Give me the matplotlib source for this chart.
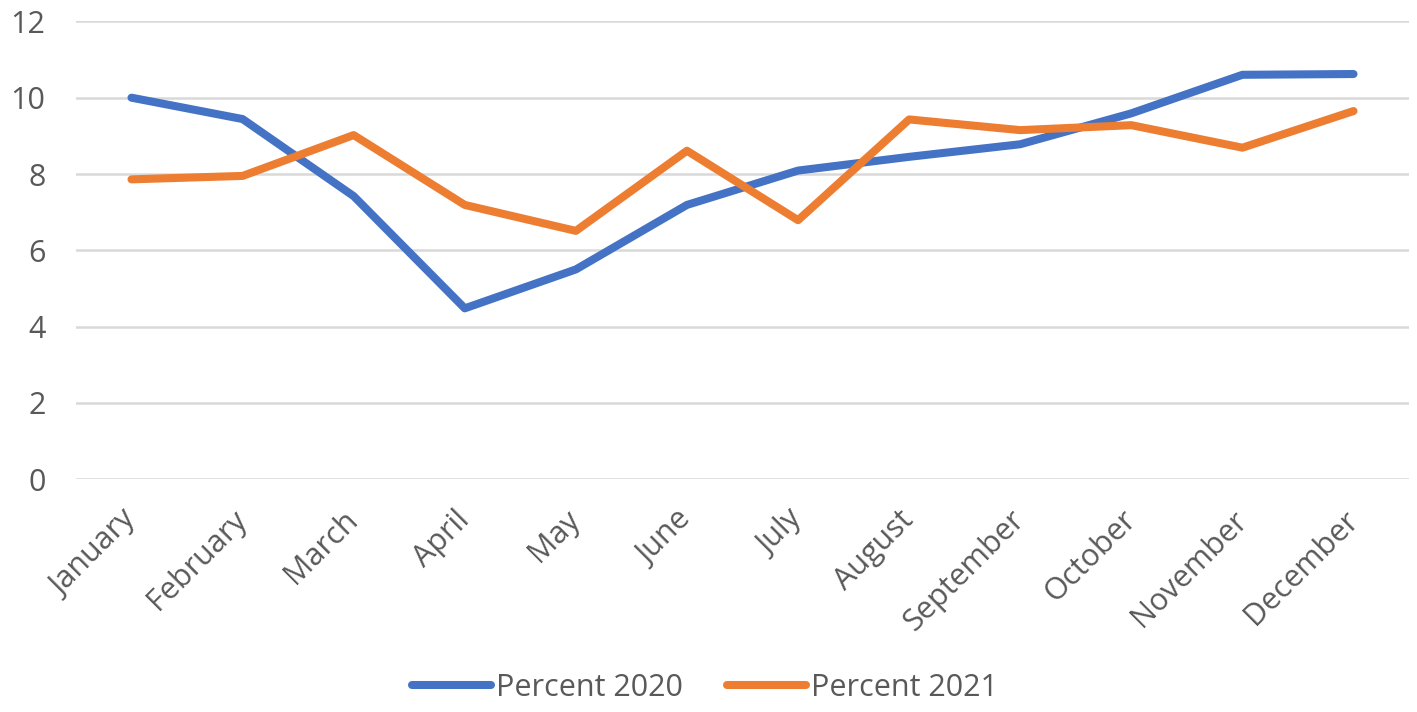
import matplotlib
matplotlib.use("Agg")
import matplotlib.pyplot as plt

months = ["January", "February", "March", "April", "May", "June", "July",
          "August", "September", "October", "November", "December"]
pct_2020 = [10.0, 9.44, 7.42, 4.48, 5.50, 7.19, 8.09, 8.45, 8.78, 9.59, 10.60, 10.62]
pct_2021 = [7.86, 7.95, 9.02, 7.19, 6.51, 8.61, 6.79, 9.43, 9.15, 9.28, 8.69, 9.65]
yticks = [0, 2, 4, 6, 8, 10, 12]

plt.rcParams['font.family'] = ['Open Sans', 'DejaVu Sans']
txt = '#595959'

fig = plt.figure(figsize=(14.17, 7.12), dpi=100)
ax = fig.add_axes([0.0536, 0.3268, 0.9408, 0.6432])

x = list(range(len(months)))
l1, = ax.plot(x, pct_2020, color='#4472C4', lw=5.8, solid_capstyle='round',
              solid_joinstyle='round', label='Percent 2020', zorder=3)
l2, = ax.plot(x, pct_2021, color='#ED7D31', lw=5.8, solid_capstyle='round',
              solid_joinstyle='round', label='Percent 2021', zorder=3)

ax.set_xlim(-0.5, len(months) - 0.5)
ax.set_ylim(0, 12)
ax.set_yticks(yticks)
ax.set_yticklabels([str(v) for v in yticks])
ax.yaxis.grid(True, color='#d9d9d9', lw=1.8)
ax.set_axisbelow(True)
for s in ax.spines.values():
    s.set_visible(False)
ax.tick_params(axis='y', length=0, pad=22, labelsize=22, labelcolor=txt)
ax.tick_params(axis='x', length=0, pad=26, labelsize=22, labelcolor=txt)
ax.set_xticks(x)
ax.set_xticklabels(months, rotation=45, ha='right', va='center', rotation_mode='anchor')

leg = fig.legend(handles=[l1, l2], loc='center', bbox_to_anchor=(0.4975, 0.034),
                 ncol=2, frameon=False, fontsize=22, handlelength=2.6,
                 handletextpad=0.16, columnspacing=1.45, labelcolor=txt)

fig.savefig('out.png', dpi=100, facecolor='white')
